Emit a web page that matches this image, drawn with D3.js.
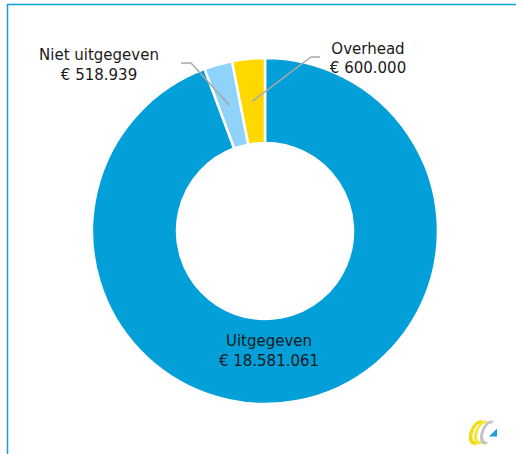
<!DOCTYPE html>
<html>
<head>
<meta charset="utf-8">
<script src="https://cdn.jsdelivr.net/npm/d3@7"></script>
<style>
  body { margin: 0; background: #fff; }
  svg { display: block; }
  .label text { font-family: "DejaVu Sans", sans-serif; font-size: 15px; fill: #1a1a1a; }
</style>
</head>
<body>
<script>
var categories = ["Uitgegeven", "Niet uitgegeven", "Overhead"];
var amounts = [18581061, 518939, 600000];
var amountLabels = ["€ 18.581.061", "€ 518.939", "€ 600.000"];
var colors = ["#029fd9", "#8fd3fb", "#ffd800"];

var width = 516,
    height = 454;

var cx = 265, cy = 231,
    outerR = 173, innerR = 88;

// where the two text lines of each label sit (first baseline)
var labelPos = [[269, 346], [99, 60], [368, 53.5]];
// leader lines: elbow and end point, null for no line
var leaders = [null, [[191, 63], [181, 63]], [[311, 57], [320, 57]]];

var svg = d3.select("body")
  .append("svg")
    .attr("width", width)
    .attr("height", height);

// frame (only top and left edge visible)
svg.append("path")
    .attr("d", "M7.5," + height + "V4.5H" + width)
    .attr("fill", "none")
    .attr("stroke", "#139fd8")
    .attr("stroke-width", 1.5);

var data = categories.map(function(c, i) {
  return { name: c, value: amounts[i], label: amountLabels[i], color: colors[i], i: i };
});

var pie = d3.pie()
    .sort(null)
    .value(function(d) { return d.value; });

var arc = d3.arc()
    .innerRadius(innerR)
    .outerRadius(outerR);

var midArc = d3.arc()
    .innerRadius((innerR + outerR) / 2)
    .outerRadius((innerR + outerR) / 2);

var g = svg.append("g")
    .attr("transform", "translate(" + cx + "," + cy + ")");

var arcs = pie(data);

g.selectAll("path.slice")
    .data(arcs)
  .enter().append("path")
    .attr("class", "slice")
    .attr("d", arc)
    .attr("fill", function(d) { return d.data.color; })
    .attr("stroke", "#fff")
    .attr("stroke-width", 2.5);

// leader lines
svg.append("g")
  .selectAll("polyline")
    .data(arcs.filter(function(d) { return leaders[d.data.i]; }))
  .enter().append("polyline")
    .attr("fill", "none")
    .attr("stroke", "#a8a8a8")
    .attr("stroke-width", 1.5)
    .attr("points", function(d) {
      var c = midArc.centroid(d);
      var l = leaders[d.data.i];
      return [[cx + c[0], cy + c[1]], l[0], l[1]].join(" ");
    });

var labels = svg.append("g")
    .attr("class", "label")
  .selectAll("text")
    .data(data)
  .enter().append("text")
    .attr("text-anchor", "middle")
    .attr("x", function(d) { return labelPos[d.i][0]; })
    .attr("y", function(d) { return labelPos[d.i][1]; });

labels.append("tspan")
    .attr("x", function(d) { return labelPos[d.i][0]; })
    .text(function(d) { return d.name; });
labels.append("tspan")
    .attr("x", function(d) { return labelPos[d.i][0]; })
    .attr("dy", 19.5)
    .text(function(d) { return d.label; });

// small logo, bottom right
var logo = svg.append("g")
    .attr("transform", "translate(481,432.5) skewX(-15)");
logo.append("path")
    .attr("d", "M-2,-10 A6,10.5 0 1,0 -2,10")
    .attr("fill", "none").attr("stroke", "#efdc10").attr("stroke-width", 3.5);
logo.append("path")
    .attr("d", "M3,-10 A6,10.5 0 1,0 3,10")
    .attr("fill", "none").attr("stroke", "#f5e63c").attr("stroke-width", 3);
logo.append("path")
    .attr("d", "M9,-10 A6,10.5 0 1,0 9,10")
    .attr("fill", "none").attr("stroke", "#c4c4c4").attr("stroke-width", 3);
svg.append("path")
    .attr("d", "M489,436.5 L497,436.5 L497,428.5 Z")
    .attr("fill", "#1aa0dd");
</script>
</body>
</html>
